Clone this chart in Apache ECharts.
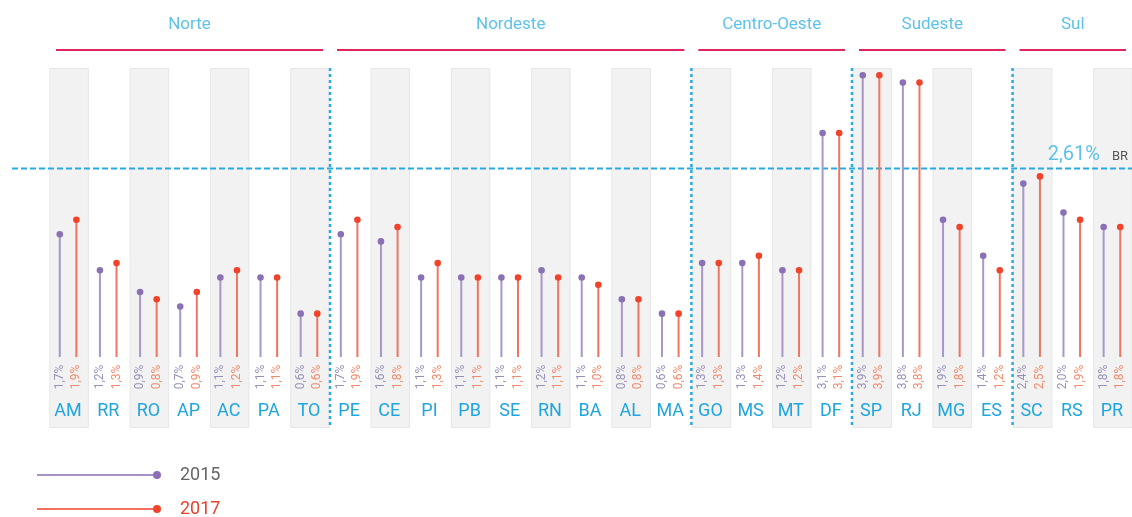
<!DOCTYPE html>
<html style="height: 100%">
<head>
  <meta charset="utf-8" />
  <title>2015 x 2017 por UF</title>
  <script src="https://cdn.jsdelivr.net/npm/echarts@6.0.0/dist/echarts.min.js"></script>
</head>
<body style="height: 100%; margin: 0">
  <div id="chart" style="width: 1132px; height: 517px"></div>
  <script>
    const states = ['AM', 'RR', 'RO', 'AP', 'AC', 'PA', 'TO', 'PE', 'CE', 'PI', 'PB', 'SE', 'RN', 'BA', 'AL', 'MA',
      'GO', 'MS', 'MT', 'DF', 'SP', 'RJ', 'MG', 'ES', 'SC', 'RS', 'PR'];
    const v2015 = [1.7, 1.2, 0.9, 0.7, 1.1, 1.1, 0.6, 1.7, 1.6, 1.1, 1.1, 1.1, 1.2, 1.1, 0.8, 0.6,
      1.3, 1.3, 1.2, 3.1, 3.9, 3.8, 1.9, 1.4, 2.4, 2.0, 1.8];
    const v2017 = [1.9, 1.3, 0.8, 0.9, 1.2, 1.1, 0.6, 1.9, 1.8, 1.3, 1.1, 1.1, 1.1, 1.0, 0.8, 0.6,
      1.3, 1.4, 1.2, 3.1, 3.9, 3.8, 1.8, 1.2, 2.5, 1.9, 1.8];
    const regionNames = ['Norte', 'Nordeste', 'Centro-Oeste', 'Sudeste', 'Sul'];
    const regionFirst = [0, 7, 16, 20, 24];
    const regionLast = [6, 15, 19, 23, 26];
    const brMean = 2.61;

    const blue = '#29abe2';
    const fmt = (v, d) => v.toFixed(d).replace('.', ',') + '%';

    var chart = echarts.init(document.getElementById('chart'));

    // column width in pixels
    function colWidth(api) { return api.size([1, 0])[0]; }

    function stemSeries(name, values, offset, lineColor, dotColor, labelColor) {
      return {
        type: 'custom',
        name: name,
        z: 4,
        itemStyle: { color: dotColor },
        data: values.map((v, i) => [i, v]),
        renderItem: function (params, api) {
          const top = api.coord([api.value(0), api.value(1)]);
          const base = api.coord([api.value(0), 0]);
          const x = top[0] + offset;
          return {
            type: 'group',
            children: [
              { type: 'line', shape: { x1: x, y1: base[1], x2: x, y2: top[1] },
                style: { stroke: lineColor, lineWidth: 2 } },
              { type: 'circle', shape: { cx: x, cy: top[1], r: 3.3 }, style: { fill: dotColor } },
              { type: 'text', x: x, y: base[1] + 20, rotation: Math.PI / 2,
                style: { text: fmt(api.value(1), 1), fill: labelColor, font: '12px Roboto',
                  align: 'center', verticalAlign: 'middle' } }
            ]
          };
        }
      };
    }

    const legendBase = {
      left: 32,
      itemWidth: 124,
      itemHeight: 8,
      icon: 'path://M0,4.2h116v1.6h-116z M120,1a4,4 0 1,1 0,8a4,4 0 1,1 0,-8z',
      textStyle: { fontSize: 18, padding: [0, 0, 0, 14] }
    };

    chart.setOption({
      backgroundColor: '#fff',
      animation: false,
      textStyle: { fontFamily: 'Roboto' },
      grid: { left: 48, top: 68, width: 1087, height: 289 },
      legend: [
        Object.assign({}, legendBase, { top: 461, data: [{ name: '2015', textStyle: { color: '#666' } }] }),
        Object.assign({}, legendBase, { top: 495, data: [{ name: '2017', textStyle: { color: '#e8432b' } }] })
      ],
      xAxis: {
        type: 'category',
        data: states,
        z: 10,
        axisLine: { show: false },
        axisTick: { show: false },
        axisLabel: { color: '#1fa5e0', fontSize: 18, margin: 45, interval: 0 }
      },
      yAxis: { type: 'value', min: 0, max: 4, show: false },
      series: [
        {
          // gray bands behind every other column
          type: 'custom',
          z: 1,
          silent: true,
          data: states.map((s, i) => [i, 4]),
          renderItem: function (params, api) {
            if (params.dataIndex % 2 !== 0) return null;
            const top = api.coord([api.value(0), api.value(1)]);
            const base = api.coord([api.value(0), 0]);
            const w = colWidth(api) * 0.96;
            return {
              type: 'rect',
              shape: { x: top[0] - w / 2 + 1, y: top[1] + 0.5, width: w, height: base[1] + 70 - top[1] },
              style: { fill: '#f2f2f2', stroke: '#e6e6e6', lineWidth: 1 }
            };
          }
        },
        {
          // region headers
          type: 'custom',
          z: 2,
          silent: true,
          data: regionNames.map((n, i) => [regionFirst[i], 0]),
          renderItem: function (params, api) {
            const k = params.dataIndex;
            const w = colWidth(api);
            const left = api.coord([regionFirst[k], 0])[0] - w / 2 + 8;
            const right = api.coord([regionLast[k], 0])[0] + w / 2 - 6;
            return {
              type: 'group',
              children: [
                { type: 'line', shape: { x1: left, y1: 50, x2: right, y2: 50 },
                  style: { stroke: '#e0245e', lineWidth: 2 } },
                { type: 'text', x: (left + right) / 2, y: 25,
                  style: { text: regionNames[k], fill: '#5ec2ea', font: '17px Roboto',
                    align: 'center', verticalAlign: 'middle' } }
              ]
            };
          }
        },
        {
          // dotted separators between regions
          type: 'custom',
          z: 2,
          silent: true,
          data: regionFirst.slice(1).map(i => [i, 4]),
          renderItem: function (params, api) {
            const top = api.coord([api.value(0), api.value(1)]);
            const base = api.coord([api.value(0), 0]);
            const x = top[0] - colWidth(api) / 2 + 1;
            return {
              type: 'line',
              shape: { x1: x, y1: top[1], x2: x, y2: base[1] + 70 },
              style: { stroke: blue, lineWidth: 2.5, lineDash: [3, 3] }
            };
          }
        },
        {
          // Brazil reference line
          type: 'custom',
          z: 2,
          silent: true,
          data: [[0, brMean]],
          renderItem: function (params, api) {
            const cs = params.coordSys;
            const y = api.coord([0, api.value(1)])[1];
            const end = cs.x + cs.width;
            return {
              type: 'group',
              children: [
                { type: 'line', shape: { x1: cs.x - 36, y1: y, x2: end, y2: y },
                  style: { stroke: blue, lineWidth: 2, lineDash: [6, 3] } },
                { type: 'text', x: end - 32, y: y - 3,
                  style: { text: fmt(api.value(1), 2), fill: '#5ec2ea', font: '20px Roboto',
                    align: 'right', verticalAlign: 'bottom' } },
                { type: 'text', x: end - 20, y: y - 5,
                  style: { text: 'BR', fill: '#555', font: '13px Roboto', align: 'left', verticalAlign: 'bottom' } }
              ]
            };
          }
        },
        stemSeries('2015', v2015, -8.3, '#a897c8', '#8a70b4', '#9a8fb8'),
        stemSeries('2017', v2017, 8.3, '#f07560', '#f0432a', '#f08a6c')
      ]
    });
  </script>
</body>
</html>
